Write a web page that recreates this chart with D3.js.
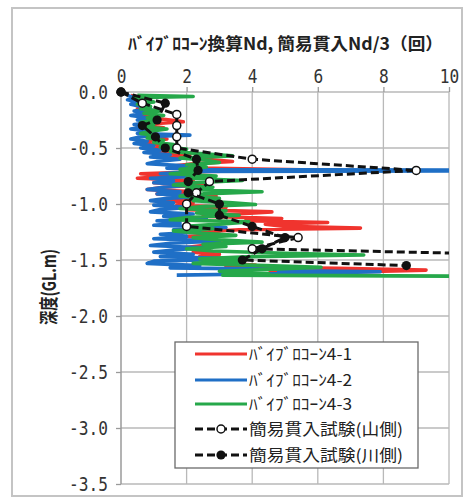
<!DOCTYPE html>
<html>
<head>
<meta charset="utf-8">
<script src="https://cdn.jsdelivr.net/npm/d3@7"></script>
<style>
  body { margin: 0; background: #ffffff; }
  svg { display: block; }
</style>
</head>
<body>
<svg id="chart" width="468" height="502"></svg>
<script>
// ---- axis ticks ----
const xTicks = [0, 2, 4, 6, 8, 10];
const yTicks = [0, -0.5, -1.0, -1.5, -2.0, -2.5, -3.0, -3.5];
const yTickLabels = ["0.0", "-0.5", "-1.0", "-1.5", "-2.0", "-2.5", "-3.0", "-3.5"];

// ---- vibro-cone converted Nd, depth (GL m) and Nd for each sounding ----
const depth41 = [-0.03,-0.05,-0.07,-0.09,-0.11,-0.13,-0.15,-0.17,-0.19,-0.21,-0.23,-0.25,-0.265,-0.28,-0.30,-0.32,-0.34,-0.36,-0.38,-0.40,-0.42,-0.44,-0.46,-0.48,-0.50,-0.52,-0.54,-0.56,-0.58,-0.60,-0.62,-0.64,-0.66,-0.68,-0.695,-0.71,-0.73,-0.75,-0.77,-0.79,-0.81,-0.83,-0.85,-0.87,-0.89,-0.91,-0.93,-0.95,-0.97,-0.99,-1.01,-1.03,-1.05,-1.07,-1.09,-1.11,-1.13,-1.15,-1.165,-1.18,-1.20,-1.215,-1.23,-1.25,-1.27,-1.29,-1.31,-1.33,-1.35,-1.37,-1.39,-1.41,-1.43,-1.45,-1.47,-1.49,-1.51,-1.53,-1.545,-1.56,-1.575,-1.59,-1.60,-1.615];
const nd41 =    [0.3,0.5,0.3,0.6,0.4,0.8,0.5,0.7,1.0,0.6,0.9,1.5,1.9,1.1,0.7,1.3,0.9,0.6,1.1,0.8,1.4,0.9,0.7,1.2,1.0,1.6,1.2,2.1,1.5,2.6,3.4,2.2,1.6,2.4,5.5,2.6,0.6,1.5,0.5,2.2,1.0,2.5,1.3,0.8,2.3,1.1,2.9,1.9,1.4,2.2,1.7,3.2,2.0,4.6,3.4,2.5,4.9,3.8,6.3,4.4,5.0,7.3,3.6,2.4,3.0,2.0,2.8,2.2,3.2,2.5,1.9,2.7,2.2,3.0,2.4,3.3,2.5,2.9,4.1,3.2,6.6,9.3,8.0,4.5];

const depth42 = [-0.03,-0.05,-0.07,-0.09,-0.11,-0.13,-0.15,-0.17,-0.19,-0.21,-0.23,-0.25,-0.27,-0.29,-0.31,-0.33,-0.35,-0.37,-0.385,-0.40,-0.42,-0.44,-0.46,-0.48,-0.50,-0.52,-0.54,-0.56,-0.58,-0.60,-0.62,-0.64,-0.66,-0.68,-0.692,-0.697,-0.704,-0.71,-0.73,-0.75,-0.77,-0.79,-0.81,-0.83,-0.85,-0.87,-0.89,-0.91,-0.93,-0.95,-0.97,-0.99,-1.01,-1.03,-1.05,-1.07,-1.09,-1.11,-1.13,-1.15,-1.17,-1.19,-1.21,-1.23,-1.25,-1.27,-1.29,-1.31,-1.33,-1.35,-1.37,-1.39,-1.41,-1.43,-1.45,-1.47,-1.49,-1.51,-1.53,-1.55,-1.57,-1.585,-1.595,-1.605,-1.615,-1.625,-1.635];
const nd42 =    [0.2,0.4,0.2,0.5,0.3,0.6,0.9,0.4,0.7,0.3,0.8,0.5,1.0,0.4,0.7,0.3,0.9,0.5,2.1,0.6,0.3,0.8,0.4,1.0,0.6,1.2,0.7,1.5,0.9,1.8,1.1,0.8,2.0,1.4,2.4,12,12,2.2,1.2,2.6,0.9,1.6,1.0,2.2,1.3,0.8,1.8,1.1,2.5,1.4,0.9,1.6,1.0,2.0,1.2,0.9,2.2,1.3,2.6,1.1,1.8,1.0,3.2,1.6,2.4,1.2,2.0,1.0,3.0,1.5,0.9,2.5,1.6,1.0,2.2,1.2,3.6,1.0,0.8,2.4,1.5,5.6,4.8,7.9,6.1,4.1,1.7];

const depth43 = [-0.03,-0.04,-0.05,-0.07,-0.09,-0.11,-0.13,-0.15,-0.17,-0.19,-0.21,-0.23,-0.25,-0.27,-0.29,-0.31,-0.33,-0.35,-0.37,-0.39,-0.41,-0.43,-0.45,-0.47,-0.49,-0.51,-0.53,-0.55,-0.57,-0.59,-0.61,-0.63,-0.65,-0.67,-0.69,-0.71,-0.73,-0.75,-0.77,-0.79,-0.81,-0.83,-0.85,-0.87,-0.89,-0.91,-0.93,-0.95,-0.97,-0.99,-1.005,-1.02,-1.04,-1.06,-1.08,-1.10,-1.12,-1.14,-1.16,-1.18,-1.20,-1.22,-1.24,-1.26,-1.28,-1.30,-1.32,-1.34,-1.36,-1.38,-1.40,-1.42,-1.44,-1.455,-1.47,-1.49,-1.51,-1.53,-1.55,-1.565,-1.58,-1.60,-1.62,-1.635,-1.645,-1.655];
const nd43 =    [0.5,2.2,0.4,0.7,1.0,0.5,0.9,0.6,1.2,0.7,1.3,0.8,1.1,0.6,1.0,0.7,1.4,0.9,0.6,1.1,0.8,1.3,1.0,1.6,1.2,2.0,1.5,2.4,3.4,1.8,2.6,3.0,2.0,2.6,1.8,2.4,1.5,2.9,2.0,3.7,2.2,1.6,2.8,2.0,4.3,2.5,1.8,3.0,2.2,3.4,4.1,2.6,1.8,3.2,2.3,3.6,2.0,1.5,3.9,3.0,2.0,2.8,1.6,2.4,3.5,2.2,3.0,4.3,2.5,3.2,2.0,2.8,5.0,7.4,4.0,2.4,3.6,2.2,4.4,6.1,4.8,3.0,4.5,3.1,11,11];

// ---- simple penetration test Nd/3 ----
const yamaDepth = [0,-0.1,-0.2,-0.3,-0.4,-0.5,-0.6,-0.7,-0.8,-0.9,-1.0,-1.2,-1.3,-1.4,-1.5];
const yamaNd =    [0,0.65,1.7,1.7,1.7,1.7,4.0,9.0,2.7,2.3,2.0,2.0,5.4,4.0,20];
const kawaDepth = [0,-0.1,-0.25,-0.3,-0.4,-0.5,-0.6,-0.7,-0.8,-0.9,-1.0,-1.1,-1.2,-1.3,-1.4,-1.5,-1.55];
const kawaNd =    [0,1.35,1.1,0.65,1.05,1.35,2.3,2.35,2.05,2.05,3.0,3.0,4.0,5.0,4.3,3.7,8.7];

const seriesNames = ["ﾊﾞｲﾌﾞﾛｺｰﾝ4-1", "ﾊﾞｲﾌﾞﾛｺｰﾝ4-2", "ﾊﾞｲﾌﾞﾛｺｰﾝ4-3", "簡易貫入試験(山側)", "簡易貫入試験(川側)"];
const seriesColors = ["#f0342e", "#1f6fc6", "#26a84a", "#111111", "#111111"];

const svg = d3.select("#chart");
const W = 468, H = 502;
const plot = { left: 121, right: 449, top: 92, bottom: 484 };

svg.append("rect").attr("width", W).attr("height", H).attr("fill", "#ffffff");
// outer chart frame
svg.append("rect")
  .attr("x", 12).attr("y", 8).attr("width", 450).attr("height", 488)
  .attr("fill", "#ffffff").attr("stroke", "#c4c4c4").attr("stroke-width", 2);

const x = d3.scaleLinear().domain([0, 10]).range([plot.left, plot.right]);
const y = d3.scaleLinear().domain([-3.5, 0]).range([plot.bottom, plot.top]);

// gridlines
const grid = svg.append("g").attr("stroke", "#b9b9b9").attr("stroke-width", 1.3);
grid.selectAll("line.v").data(xTicks.slice(1)).join("line")
  .attr("x1", d => x(d)).attr("x2", d => x(d))
  .attr("y1", plot.top).attr("y2", plot.bottom);
grid.selectAll("line.h").data(yTicks).join("line")
  .attr("x1", plot.left).attr("x2", plot.right)
  .attr("y1", d => y(d)).attr("y2", d => y(d));

// axes
const labelFont = "'DejaVu Sans Mono', monospace";
const xAxis = svg.append("g").attr("transform", `translate(0,${plot.top})`)
  .call(d3.axisTop(x).tickValues(xTicks).tickSize(5).tickPadding(4).tickFormat(d3.format("d")));
const yAxis = svg.append("g").attr("transform", `translate(${plot.left},0)`)
  .call(d3.axisLeft(y).tickValues(yTicks).tickSize(5).tickPadding(8).tickFormat((d, i) => yTickLabels[i]));
[xAxis, yAxis].forEach(g => {
  g.select(".domain").remove();
  g.selectAll(".tick line").attr("stroke", "#9a9a9a").attr("stroke-width", 1.3);
  g.selectAll(".tick text")
    .attr("fill", "#333333")
    .style("font-family", labelFont)
    .style("font-size", "19px")
    .attr("transform", "scale(0.85,1)");
});
yAxis.selectAll(".tick text").attr("x", -13 / 0.85);
svg.append("line")
  .attr("x1", plot.left).attr("x2", plot.left)
  .attr("y1", plot.top).attr("y2", plot.bottom)
  .attr("stroke", "#9a9a9a").attr("stroke-width", 1.5);

// titles
svg.append("text")
  .attr("x", 128).attr("y", 50)
  .attr("textLength", 315).attr("lengthAdjust", "spacingAndGlyphs")
  .style("font-family", "'Noto Sans CJK JP', sans-serif")
  .style("font-weight", "bold").style("font-size", "17px")
  .attr("fill", "#222222")
  .text("ﾊﾞｲﾌﾞﾛｺｰﾝ換算Nd,  簡易貫入Nd/3（回）");

svg.append("text")
  .attr("transform", "translate(56,287) rotate(-90)")
  .attr("text-anchor", "middle")
  .attr("textLength", 76).attr("lengthAdjust", "spacingAndGlyphs")
  .style("font-family", "'Noto Sans CJK JP', sans-serif")
  .style("font-weight", "bold").style("font-size", "19px")
  .attr("fill", "#222222")
  .text("深度(GL.m)");

// data series
svg.append("clipPath").attr("id", "plotClip")
  .append("rect").attr("x", plot.left - 12).attr("y", plot.top - 10)
  .attr("width", plot.right - plot.left + 12).attr("height", plot.bottom - plot.top + 10);

const line = d3.line().x(d => x(d[1])).y(d => y(d[0]));
const zip = (ds, vs) => ds.map((d, i) => [d, vs[i]]);
const layer = svg.append("g").attr("clip-path", "url(#plotClip)");

const cone = [zip(depth41, nd41), zip(depth42, nd42), zip(depth43, nd43)];
cone.forEach((pts, i) => {
  layer.append("path").datum(pts)
    .attr("d", line)
    .attr("fill", "none")
    .attr("stroke", seriesColors[i])
    .attr("stroke-width", 3.6)
    .attr("stroke-linejoin", "round");
});

// mountain side first, river side drawn over it
const yama = zip(yamaDepth, yamaNd);
const kawa = zip(kawaDepth, kawaNd);
[yama, kawa].forEach((pts, k) => {
  const g = layer.append("g");
  g.append("path").datum(pts)
    .attr("d", line)
    .attr("fill", "none")
    .attr("stroke", "#111111")
    .attr("stroke-width", 3)
    .attr("stroke-dasharray", "8,4");
  g.selectAll("circle").data(pts).join("circle")
    .attr("cx", d => x(d[1])).attr("cy", d => y(d[0]))
    .attr("r", k === 0 ? 4 : 4.6)
    .attr("fill", k === 0 ? "#ffffff" : "#111111")
    .attr("stroke", "#111111").attr("stroke-width", k === 0 ? 1.5 : 0);
});

// legend
const legend = svg.append("g");
legend.append("rect")
  .attr("x", 175).attr("y", 342).attr("width", 243).attr("height", 126)
  .attr("fill", "#ffffff").attr("stroke", "#6a6a6a").attr("stroke-width", 1.3);
const rowY = [354, 380, 404, 429, 455];
const textLen = [103, 103, 103, 154, 154];
seriesNames.forEach((name, i) => {
  const g = legend.append("g").attr("transform", `translate(0,${rowY[i]})`);
  const sample = g.append("line").attr("x1", 195).attr("x2", 247).attr("y1", 0).attr("y2", 0)
    .attr("stroke", seriesColors[i]).attr("stroke-width", 3.2);
  if (i >= 3) {
    sample.attr("stroke-dasharray", "8,4").attr("stroke-width", 3);
    g.append("circle").attr("cx", 221).attr("cy", 0).attr("r", i === 3 ? 4 : 4.6)
      .attr("fill", i === 3 ? "#ffffff" : "#111111")
      .attr("stroke", "#111111").attr("stroke-width", i === 3 ? 1.5 : 0);
  }
  g.append("text")
    .attr("x", 249).attr("y", 6)
    .attr("textLength", textLen[i]).attr("lengthAdjust", "spacingAndGlyphs")
    .style("font-family", "'Noto Sans CJK JP', sans-serif")
    .style("font-size", "16px")
    .attr("fill", "#222222")
    .text(name);
});
</script>
</body>
</html>
